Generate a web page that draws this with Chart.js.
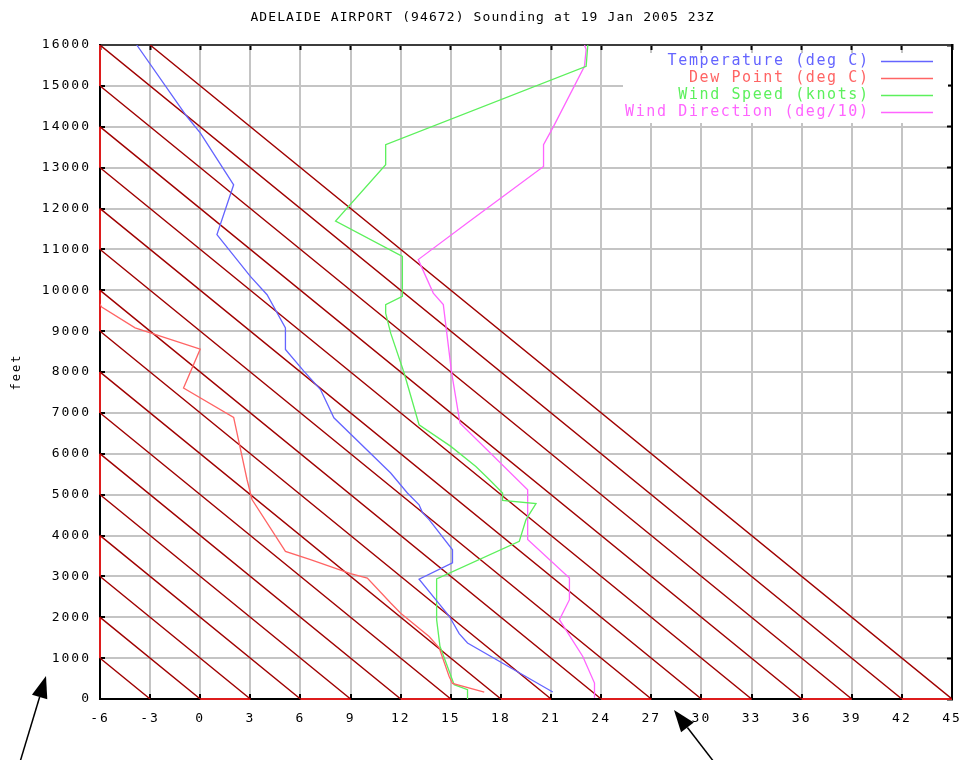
<!DOCTYPE html>
<html><head><meta charset="utf-8">
<script src="https://cdn.jsdelivr.net/npm/chart.js@4.4.1/dist/chart.umd.min.js"></script>
<style>html,body{margin:0;padding:0;background:#fff;}canvas{display:block;}</style>
</head><body>
<canvas id="c" width="963" height="760"></canvas>
<script>
// ---------- data ----------
const chartTitle = 'ADELAIDE AIRPORT (94672) Sounding at 19 Jan 2005 23Z';
const yAxisTitle = 'feet';
const seriesNames = ['Temperature (deg C)', 'Dew Point (deg C)', 'Wind Speed (knots)', 'Wind Direction (deg/10)'];

const xMin = -6, xMax = 45, xStep = 3;
const yMin = 0, yMax = 16000, yStep = 1000;

const tempHeight = [170, 1370, 1600, 2030, 2930, 3330, 3650, 4390, 4560, 4750, 5040, 5530, 6880, 7570, 8020, 8550, 9080, 9890, 10340, 11360, 12580, 13850, 14250, 16000];
const tempValue  = [21.1, 16.0, 15.5, 14.9, 13.1, 15.1, 15.1, 13.7, 13.3, 13.1, 12.4, 11.4, 8.0, 7.2, 6.2, 5.1, 5.1, 4.0, 3.0, 1.0, 2.0, 0.0, -0.8, -3.8];

const dewHeight = [170, 380, 550, 1250, 1530, 2100, 2350, 2960, 3070, 3410, 3610, 4880, 5370, 6890, 7610, 8560, 9080, 9590, 9780];
const dewValue  = [17.0, 15.1, 14.9, 14.3, 13.7, 12.0, 11.4, 10.0, 9.0, 6.6, 5.1, 3.1, 2.8, 2.0, -1.0, 0.0, -3.9, -5.9, -6.2];

const speedHeight = [0, 230, 350, 1290, 1940, 2940, 3860, 4390, 4780, 4860, 5040, 5370, 5690, 6180, 6710, 7980, 8950, 9440, 9650, 9850, 10830, 11690, 13070, 13560, 15480, 16000];
const speedValue  = [16.0, 16.0, 15.2, 14.35, 14.15, 14.15, 19.1, 19.5, 20.1, 18.1, 18.1, 17.3, 16.5, 15.0, 13.1, 12.2, 11.4, 11.1, 11.1, 12.1, 12.1, 8.1, 11.1, 11.1, 23.1, 23.2];

const dirHeight = [30, 390, 1040, 1940, 2430, 2960, 3900, 5120, 6750, 7980, 9650, 9930, 10750, 11650, 13030, 13560, 14010, 15480, 15890, 16000];
const dirValue  = [23.6, 23.6, 22.9, 21.5, 22.1, 22.1, 19.6, 19.6, 15.55, 15.05, 14.55, 13.95, 13.05, 16.0, 20.55, 20.55, 21.15, 23.0, 23.1, 23.0];

// dry adiabats: surface temperature of each reference line, lapse 3 deg per 1000 ft
const adiabatBase = [-3, 0, 3, 6, 9, 12, 15, 18, 21, 24, 27, 30, 33, 36, 39, 42, 45];
const adiabatLapse = 3; // deg C per 1000 ft

// red pieces that the adiabats leave along the axes
const leftAxisRedFrom = [1000, 3000, 5000, 7000, 9000, 11000, 13000, 15000];
const bottomAxisRedFrom = [0, 6, 12, 18, 24, 30, 36, 42];

const seriesColors = ['#6464ff', '#ff6464', '#5cf05c', '#ff64ff'];

// ---------- build ----------
const pts = (hs, vs) => hs.map((h, i) => ({x: vs[i], y: h}));

const adiabatData = [];
adiabatBase.forEach(t0 => {
  adiabatData.push({x: t0, y: 0});
  adiabatData.push({x: t0 - adiabatLapse * yMax / 1000, y: yMax});
  adiabatData.push({x: null, y: null});
});
const leftRedData = [];
leftAxisRedFrom.forEach(h => { leftRedData.push({x: xMin, y: h}, {x: xMin, y: h + yStep}, {x: null, y: null}); });
const bottomRedData = [];
bottomAxisRedFrom.forEach(t => { bottomRedData.push({x: t, y: yMin}, {x: t + xStep, y: yMin}, {x: null, y: null}); });

const seriesSets = [
  pts(tempHeight, tempValue), pts(dewHeight, dewValue),
  pts(speedHeight, speedValue), pts(dirHeight, dirValue)
].map((d, i) => ({
  label: seriesNames[i], data: d, borderColor: seriesColors[i], backgroundColor: seriesColors[i],
  borderWidth: 1.3, showLine: true, pointRadius: 0, fill: false, tension: 0
}));

const datasets = seriesSets.concat([
  {label: 'adiabats', data: adiabatData, borderColor: '#a00000', borderWidth: 1.4, showLine: true, pointRadius: 0, spanGaps: false},
  {label: 'leftRed', data: leftRedData, borderColor: '#dd1c1c', borderWidth: 2, showLine: true, pointRadius: 0, spanGaps: false, clip: false},
  {label: 'bottomRed', data: bottomRedData, borderColor: '#dd1c1c', borderWidth: 2, showLine: true, pointRadius: 0, spanGaps: false, clip: false}
]);

const FONT = "'DejaVu Sans Mono', 'Liberation Mono', monospace";
Chart.defaults.font.family = FONT;
Chart.defaults.color = '#000';

const spacingPlugin = {
  id: 'spacing',
  beforeDraw(chart) { chart.ctx.letterSpacing = '2px'; }
};

const zeroPad = s => { s.paddingLeft = 0; s.paddingRight = 0; s.paddingTop = 0; s.paddingBottom = 0; };

const decorPlugin = {
  id: 'decor',
  afterDatasetsDraw(chart) {
    const {ctx, chartArea: a} = chart;
    ctx.save();
    // legend box
    ctx.fillStyle = '#fff';
    ctx.fillRect(a.right - 329, a.top + 8, 325, 70);
    ctx.letterSpacing = '1.6px';
    ctx.font = "15px " + FONT;
    ctx.textAlign = 'right';
    ctx.textBaseline = 'middle';
    seriesNames.forEach((name, i) => {
      const y = a.top + 16 + i * 17;
      ctx.fillStyle = seriesColors[i];
      ctx.fillText(name, a.right - 84 + 1.6, y);
      ctx.strokeStyle = seriesColors[i];
      ctx.lineWidth = 1.5;
      ctx.beginPath();
      ctx.moveTo(a.right - 71, y + 0.5);
      ctx.lineTo(a.right - 19, y + 0.5);
      ctx.stroke();
    });
    ctx.restore();
  },
  afterDraw(chart) {
    const {ctx, width} = chart;
    ctx.save();
    ctx.letterSpacing = '1.1px';
    ctx.font = "13px " + FONT;
    ctx.fillStyle = '#000';
    ctx.textAlign = 'center';
    ctx.textBaseline = 'middle';
    ctx.fillText(chartTitle, width / 2 + 1, 18);
    // annotation arrows
    const arrow = (x1, y1, x2, y2) => {
      const ang = Math.atan2(y2 - y1, x2 - x1);
      const L = 22, W = 8;
      const bx = x2 - L * Math.cos(ang), by = y2 - L * Math.sin(ang);
      ctx.strokeStyle = '#000'; ctx.lineWidth = 1.5;
      ctx.beginPath(); ctx.moveTo(x1, y1); ctx.lineTo(bx, by); ctx.stroke();
      ctx.fillStyle = '#000';
      ctx.beginPath();
      ctx.moveTo(x2, y2);
      ctx.lineTo(bx + W * Math.sin(ang), by - W * Math.cos(ang));
      ctx.lineTo(bx - W * Math.sin(ang), by + W * Math.cos(ang));
      ctx.closePath(); ctx.fill();
    };
    arrow(20, 762, 46, 676);
    arrow(714, 762, 674, 710);
    ctx.restore();
  }
};

const gridColor = '#c4c4c4';
new Chart(document.getElementById('c'), {
  type: 'scatter',
  data: {datasets},
  plugins: [spacingPlugin, decorPlugin],
  options: {
    responsive: false, animation: false, devicePixelRatio: 1,
    layout: {padding: {top: 45, left: 0, right: 0, bottom: 0}},
    plugins: {legend: {display: false}, tooltip: {enabled: false}, title: {display: false}},
    scales: {
      x: {
        type: 'linear', position: 'bottom', min: xMin, max: xMax,
        afterFit(s) { s.height = 61; zeroPad(s); },
        ticks: {stepSize: xStep, autoSkip: false, maxRotation: 0, padding: 17, font: {size: 13}, color: '#000', callback: v => String(v)},
        grid: {color: gridColor, lineWidth: 2, tickColor: '#000', tickWidth: 2, tickLength: -5},
        border: {color: '#000', width: 2}
      },
      xTop: {
        type: 'linear', position: 'top', min: xMin, max: xMax,
        afterFit(s) { s.height = 0; zeroPad(s); },
        ticks: {stepSize: xStep, display: false},
        grid: {drawOnChartArea: false, tickColor: '#000', tickWidth: 2, tickLength: -5},
        border: {color: '#3c3c3c', width: 2}
      },
      y: {
        type: 'linear', position: 'left', min: yMin, max: yMax,
        afterFit(s) { s.width = 100; zeroPad(s); },
        ticks: {stepSize: yStep, padding: 14, font: {size: 13}, color: '#000', callback: v => String(v)},
        grid: {color: gridColor, lineWidth: 2, tickColor: '#000', tickWidth: 2, tickLength: -5},
        border: {color: '#000', width: 2},
        title: {display: true, text: yAxisTitle, font: {size: 12}, color: '#000', padding: {top: 10, bottom: 0}}
      },
      yRight: {
        type: 'linear', position: 'right', min: yMin, max: yMax,
        afterFit(s) { s.width = 11; zeroPad(s); },
        ticks: {stepSize: yStep, display: false},
        grid: {drawOnChartArea: false, tickColor: '#000', tickWidth: 2, tickLength: -5},
        border: {color: '#000', width: 2}
      }
    }
  }
});
</script>
</body></html>
